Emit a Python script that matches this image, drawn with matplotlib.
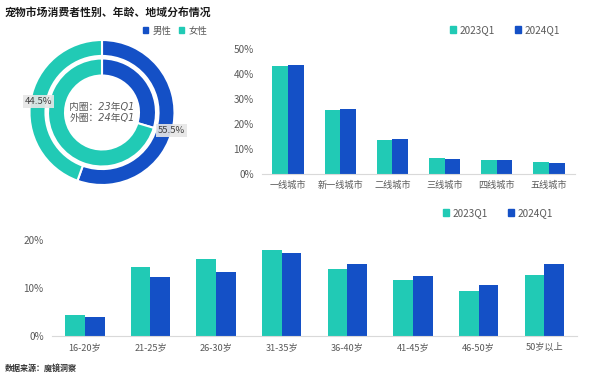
import matplotlib.pyplot as plt
from matplotlib.patches import Patch
from matplotlib.ticker import PercentFormatter
import numpy as np

plt.rcParams['font.family'] = ['Noto Sans CJK SC', 'DejaVu Sans']

TEAL = '#21CAB5'
BLUE = '#1450C6'
GREY = '#595959'
AXIS = '#D9D9D9'

# gender (male, female)
gender_labels = ['男性', '女性']
gender_23q1 = [29.6, 70.4]   # inner ring
gender_24q1 = [55.5, 44.5]   # outer ring

# city tiers
cities = ['一线城市', '新一线城市', '二线城市', '三线城市', '四线城市', '五线城市']
city_23q1 = [43.3, 25.7, 13.6, 6.5, 5.6, 4.7]
city_24q1 = [43.7, 26.1, 14.0, 6.1, 5.6, 4.3]

# age groups
ages = ['16-20岁', '21-25岁', '26-30岁', '31-35岁', '36-40岁', '41-45岁', '46-50岁', '50岁以上']
age_23q1 = [4.4, 14.3, 16.0, 17.9, 14.0, 11.6, 9.4, 12.7]
age_24q1 = [3.9, 12.2, 13.4, 17.2, 14.9, 12.6, 10.6, 15.1]

series = ['2023Q1', '2024Q1']

fig = plt.figure(figsize=(6, 3.79), dpi=100)
fig.text(5/600, 1-12/379, '宠物市场消费者性别、年龄、地域分布情况', fontsize=7.8,
         fontweight='bold', color='#1A1A1A', va='center', ha='left')

# ---- donut
ax = fig.add_axes([(102-72.5)/600, 1-185/379, 145/600, 145/379])
wp = dict(edgecolor='white', linewidth=1.5)
outer, _ = ax.pie(gender_24q1, radius=1.0, startangle=90, counterclock=False,
                  colors=[BLUE, TEAL], wedgeprops=dict(width=0.22, **wp))
ax.pie(gender_23q1, radius=0.745, startangle=90, counterclock=False,
       colors=[BLUE, TEAL], wedgeprops=dict(width=0.235, **wp))
ax.set_xlim(-1, 1)
ax.set_ylim(-1, 1)
offs = [(0.08, -0.1), (0, 0)]
for w, v, (dx, dy) in zip(outer, gender_24q1, offs):
    a = np.deg2rad((w.theta1 + w.theta2) / 2)
    ax.text(0.89*np.cos(a) + dx, 0.89*np.sin(a) + dy, '%.1f%%' % v, ha='center', va='center',
            fontsize=6.8, color='#404040',
            bbox=dict(boxstyle='square,pad=0.2', fc='#E6E6E6', ec='none', alpha=0.9))
ax.text(0, 0.08, '内圈：23年Q1', ha='center', va='center', fontsize=7, color=GREY,
        style='italic', family=['DejaVu Sans', 'Noto Sans CJK SC'])
ax.text(0, -0.08, '外圈：24年Q1', ha='center', va='center', fontsize=7, color=GREY,
        style='italic', family=['DejaVu Sans', 'Noto Sans CJK SC'])
fig.legend(handles=[Patch(color=BLUE, label=gender_labels[0]), Patch(color=TEAL, label=gender_labels[1])],
           loc='center', bbox_to_anchor=(175/600, 1-31/379), ncol=2, frameon=False,
           fontsize=6.8, handlelength=0.6, handleheight=0.6, handletextpad=0.4,
           columnspacing=0.8, labelcolor=GREY)


def bars(ax, cats, a, b, ymax, step):
    x = np.arange(len(cats))
    w = 0.3
    ax.bar(x - w/2, a, w, color=TEAL)
    ax.bar(x + w/2, b, w, color=BLUE)
    ax.set_xlim(-0.5, len(cats) - 0.5)
    ax.set_ylim(0, ymax)
    ax.set_yticks(np.arange(0, ymax + 0.1, step))
    ax.yaxis.set_major_formatter(PercentFormatter(decimals=0))
    ax.set_xticks(x)
    ax.set_xticklabels(cats)
    for s in ['top', 'right', 'left']:
        ax.spines[s].set_visible(False)
    ax.spines['bottom'].set_color(AXIS)
    ax.tick_params(length=0, colors=GREY)
    ax.tick_params(axis='x', pad=5, labelsize=6.6)
    ax.tick_params(axis='y', pad=6, labelsize=7.2)


def bar_legend(xc, yc):
    fig.legend(handles=[Patch(color=TEAL, label=series[0]), Patch(color=BLUE, label=series[1])],
               loc='center', bbox_to_anchor=(xc/600, 1-yc/379), ncol=2, frameon=False,
               fontsize=7.2, handlelength=0.6, handleheight=0.6, handletextpad=0.4,
               columnspacing=2.0, labelcolor=GREY)


# ---- city tiers
ax2 = fig.add_axes([262/600, 1-174/379, 313/600, 125/379])
bars(ax2, cities, city_23q1, city_24q1, 50, 10)
bar_legend(505, 30)

# ---- ages
ax3 = fig.add_axes([52/600, 1-336/379, 525/600, 96/379])
bars(ax3, ages, age_23q1, age_24q1, 20, 10)
bar_legend(498, 213)

fig.text(5/600, 1-368/379, '数据来源：魔镜洞察', fontsize=5.8, color='#333333',
         fontweight='bold', va='center', ha='left')

fig.savefig('out.png', dpi=100)
